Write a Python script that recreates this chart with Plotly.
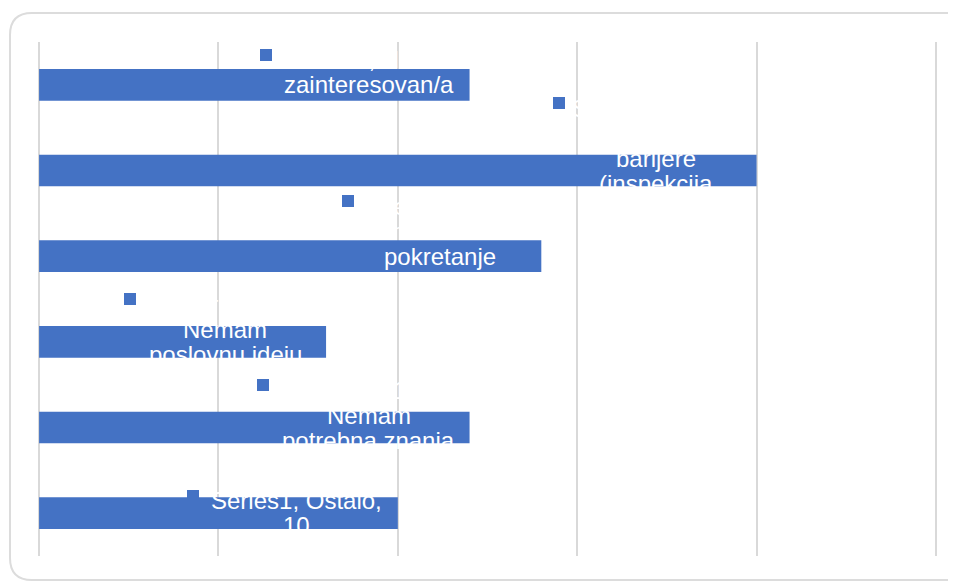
import plotly.graph_objects as go

# ---------------- data ----------------
categories = [
    "Nisam zainteresovan/a",
    "Plašim se birokratske barijere (inspekcija i sl.)",
    "Nemam novca za pokretanje biznisa",
    "Nemam poslovnu ideju",
    "Nemam potrebna znanja",
    "Ostalo",
]
values = [12, 20, 14, 8, 12, 10]
series_name = "Series1"
x_ticks = [0, 5, 10, 15, 20, 25]

# data-label text as wrapped by the original chart (white text)
label_lines = [
    ["Series1, Nisam", "zainteresovan/a", "12"],
    ["Series1, Plašim", "se birokratske", "barijere", "(inspekcija", "i sl.),", "20"],
    ["Series1, Nemam", "novca za", "pokretanje", "biznisa,", "14"],
    ["Series1,", "Nemam", "poslovnu ideju", "8"],
    ["Series1,", "Nemam", "potrebna znanja", "12"],
    ["Series1, Ostalo,", "10"],
]

# ---------------- style ----------------
W, H = 948, 575          # page body has an 8px margin
ML, MR, MT, MB = 30, 19, 34, 27
BAR_COLOR = "#4472C4"
GRID_COLOR = "#d9d9d9"
FONT = "Liberation Sans, Arial, sans-serif"
FONT_SIZE = 24
LINE_STEP = 25          # px between wrapped label lines
TEXT_DX = -101          # label centre relative to bar end (px)
KEY_DX = [-204, -198, -193, -196, -207, -205]   # legend-key centre relative to bar end (px)
KEY_SIZE = 12
PAD = 0.03              # tiny range padding so edge gridlines are drawn

fig = go.Figure()
fig.add_trace(go.Bar(
    y=categories, x=values, orientation="h",
    marker=dict(color=BAR_COLOR, line=dict(width=0)),
    width=0.37, name=series_name, hoverinfo="x+y",
))

annotations = []
for cat, val, lines, kdx in zip(categories, values, label_lines, KEY_DX):
    n = len(lines)
    for i, line in enumerate(lines):
        dy = -(i - (n - 1) / 2) * LINE_STEP
        annotations.append(dict(
            x=val, y=cat, xref="x", yref="y", text=line, showarrow=False,
            xanchor="center", yanchor="middle", xshift=TEXT_DX, yshift=dy,
            font=dict(family=FONT, size=FONT_SIZE, color="white"),
        ))
    dy0 = (n - 1) / 2 * LINE_STEP + 5
    annotations.append(dict(
        x=val, y=cat, xref="x", yref="y", text=" ", showarrow=False,
        xanchor="center", yanchor="middle", xshift=kdx, yshift=dy0,
        width=KEY_SIZE, height=KEY_SIZE, bgcolor=BAR_COLOR, borderpad=0,
        borderwidth=0, font=dict(size=6),
    ))

# rounded card behind the chart (pixel -> paper conversion)
pw, ph = W - ML - MR, H - MT - MB
def px(x):
    return (x - ML) / pw
def py(y):
    return (H - MB - y) / ph

# left edge, top edge and the top-right corner of the card (right side runs off-page)
x0, y0, y1, r = 2, 5, 572, 22
xc = 941                 # where the top-right rounding starts
path = (
    f"M {px(x0 + r)},{py(y0)} L {px(xc)},{py(y0)} "
    f"Q {px(xc + r)},{py(y0)} {px(xc + r)},{py(y0 + r)} "
    f"L {px(xc + r)},{py(y1)} "
    f"L {px(x0 + r)},{py(y1)} Q {px(x0)},{py(y1)} {px(x0)},{py(y1 - r)} "
    f"L {px(x0)},{py(y0 + r)} Q {px(x0)},{py(y0)} {px(x0 + r)},{py(y0)} Z"
)

fig.update_layout(
    width=W, height=H,
    margin=dict(l=ML, r=MR, t=MT, b=MB, pad=0),
    paper_bgcolor="white", plot_bgcolor="rgba(0,0,0,0)",
    showlegend=False,
    xaxis=dict(
        range=[x_ticks[0] - PAD, x_ticks[-1] + PAD], tickvals=x_ticks,
        showticklabels=False,
        showgrid=True, gridcolor=GRID_COLOR, gridwidth=1.5,
        zeroline=False, showline=False, ticks="", fixedrange=True,
    ),
    yaxis=dict(
        categoryorder="array", categoryarray=categories, autorange="reversed",
        showticklabels=False, showgrid=False, zeroline=False, showline=False,
        ticks="", fixedrange=True,
    ),
    annotations=annotations,
    shapes=[dict(
        type="path", path=path, xref="paper", yref="paper", layer="below",
        fillcolor="white", line=dict(color="#dcdcdc", width=2),
    )],
)

fig.write_html("out.html")
